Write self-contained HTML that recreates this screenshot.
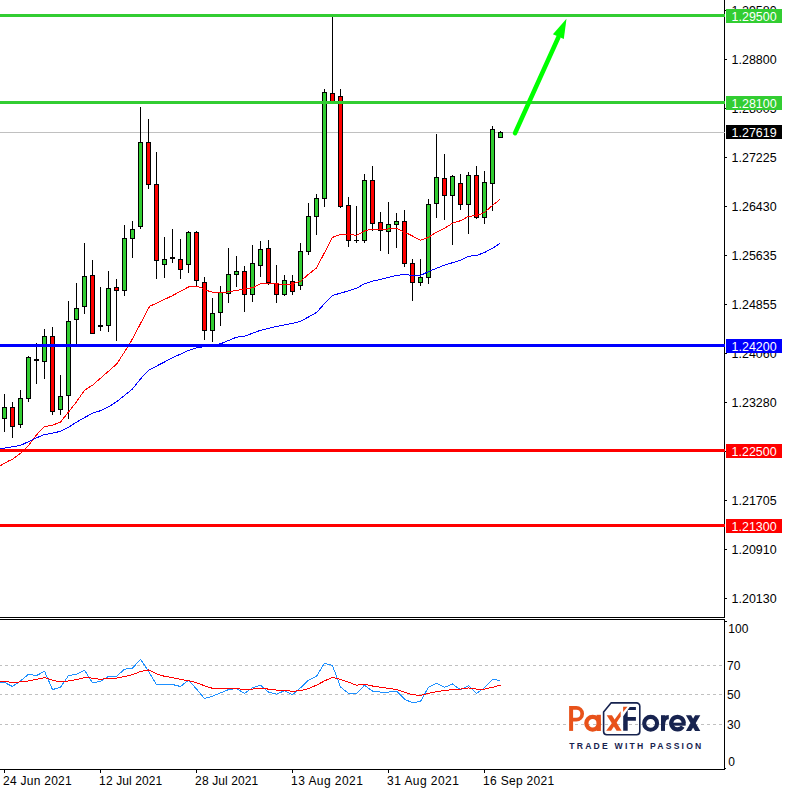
<!DOCTYPE html>
<html><head><meta charset="utf-8"><title>Chart</title><style>html,body{margin:0;padding:0;background:#fff;}body{width:786px;height:788px;overflow:hidden;}svg{display:block}text{font-family:"Liberation Sans",sans-serif;}</style>
</head><body>
<svg width="786" height="788" viewBox="0 0 786 788">
<rect x="0" y="0" width="786" height="788" fill="#ffffff"/>
<g shape-rendering="crispEdges" fill="#000">
<rect x="725" y="10" width="2" height="1"/>
<rect x="725" y="59" width="2" height="1"/>
<rect x="725" y="108" width="2" height="1"/>
<rect x="725" y="157" width="2" height="1"/>
<rect x="725" y="206" width="2" height="1"/>
<rect x="725" y="255" width="2" height="1"/>
<rect x="725" y="304" width="2" height="1"/>
<rect x="725" y="353" width="2" height="1"/>
<rect x="725" y="402" width="2" height="1"/>
<rect x="725" y="451" width="2" height="1"/>
<rect x="725" y="500" width="2" height="1"/>
<rect x="725" y="549" width="2" height="1"/>
<rect x="725" y="598" width="2" height="1"/>
</g>
<g font-size="12" fill="#000">
<text x="731.6" y="15" textLength="45" lengthAdjust="spacingAndGlyphs">1.29580</text>
<text x="731.6" y="64" textLength="45" lengthAdjust="spacingAndGlyphs">1.28800</text>
<text x="731.6" y="113" textLength="45" lengthAdjust="spacingAndGlyphs">1.28005</text>
<text x="731.6" y="162" textLength="45" lengthAdjust="spacingAndGlyphs">1.27225</text>
<text x="731.6" y="211" textLength="45" lengthAdjust="spacingAndGlyphs">1.26430</text>
<text x="731.6" y="260" textLength="45" lengthAdjust="spacingAndGlyphs">1.25635</text>
<text x="731.6" y="309" textLength="45" lengthAdjust="spacingAndGlyphs">1.24855</text>
<text x="731.6" y="358" textLength="45" lengthAdjust="spacingAndGlyphs">1.24060</text>
<text x="731.6" y="407" textLength="45" lengthAdjust="spacingAndGlyphs">1.23280</text>
<text x="731.6" y="456" textLength="45" lengthAdjust="spacingAndGlyphs">1.22485</text>
<text x="731.6" y="505" textLength="45" lengthAdjust="spacingAndGlyphs">1.21705</text>
<text x="731.6" y="554" textLength="45" lengthAdjust="spacingAndGlyphs">1.20910</text>
<text x="731.6" y="603" textLength="45" lengthAdjust="spacingAndGlyphs">1.20130</text>
</g>
<g shape-rendering="crispEdges">
<rect x="0" y="132" width="724" height="1" fill="#C0C0C0"/>
<rect x="4" y="394" width="1" height="38" fill="#000"/>
<rect x="2" y="407" width="5" height="12" fill="#000"/>
<rect x="3" y="408" width="3" height="10" fill="#32CD32"/>
<rect x="12" y="402" width="1" height="36" fill="#000"/>
<rect x="10" y="407" width="5" height="20" fill="#000"/>
<rect x="11" y="408" width="3" height="18" fill="#FF0000"/>
<rect x="20" y="390" width="1" height="38" fill="#000"/>
<rect x="18" y="398" width="5" height="27" fill="#000"/>
<rect x="19" y="399" width="3" height="25" fill="#32CD32"/>
<rect x="28" y="356" width="1" height="46" fill="#000"/>
<rect x="26" y="357" width="5" height="42" fill="#000"/>
<rect x="27" y="358" width="3" height="40" fill="#32CD32"/>
<rect x="36" y="343" width="1" height="41" fill="#000"/>
<rect x="34" y="359" width="5" height="2" fill="#000"/>
<rect x="44" y="329" width="1" height="50" fill="#000"/>
<rect x="42" y="336" width="5" height="26" fill="#000"/>
<rect x="43" y="337" width="3" height="24" fill="#32CD32"/>
<rect x="52" y="327" width="1" height="88" fill="#000"/>
<rect x="50" y="336" width="5" height="76" fill="#000"/>
<rect x="51" y="337" width="3" height="74" fill="#FF0000"/>
<rect x="60" y="375" width="1" height="40" fill="#000"/>
<rect x="58" y="396" width="5" height="14" fill="#000"/>
<rect x="59" y="397" width="3" height="12" fill="#32CD32"/>
<rect x="68" y="301" width="1" height="118" fill="#000"/>
<rect x="66" y="321" width="5" height="75" fill="#000"/>
<rect x="67" y="322" width="3" height="73" fill="#32CD32"/>
<rect x="76" y="283" width="1" height="62" fill="#000"/>
<rect x="74" y="308" width="5" height="12" fill="#000"/>
<rect x="75" y="309" width="3" height="10" fill="#32CD32"/>
<rect x="84" y="243" width="1" height="71" fill="#000"/>
<rect x="82" y="276" width="5" height="31" fill="#000"/>
<rect x="83" y="277" width="3" height="29" fill="#32CD32"/>
<rect x="92" y="260" width="1" height="74" fill="#000"/>
<rect x="90" y="275" width="5" height="59" fill="#000"/>
<rect x="91" y="276" width="3" height="57" fill="#FF0000"/>
<rect x="100" y="287" width="1" height="44" fill="#000"/>
<rect x="98" y="325" width="5" height="2" fill="#000"/>
<rect x="108" y="271" width="1" height="61" fill="#000"/>
<rect x="106" y="288" width="5" height="38" fill="#000"/>
<rect x="107" y="289" width="3" height="36" fill="#32CD32"/>
<rect x="116" y="279" width="1" height="62" fill="#000"/>
<rect x="114" y="287" width="5" height="4" fill="#000"/>
<rect x="115" y="288" width="3" height="2" fill="#FF0000"/>
<rect x="124" y="225" width="1" height="71" fill="#000"/>
<rect x="122" y="238" width="5" height="53" fill="#000"/>
<rect x="123" y="239" width="3" height="51" fill="#32CD32"/>
<rect x="132" y="221" width="1" height="37" fill="#000"/>
<rect x="130" y="229" width="5" height="10" fill="#000"/>
<rect x="131" y="230" width="3" height="8" fill="#32CD32"/>
<rect x="140" y="107" width="1" height="122" fill="#000"/>
<rect x="138" y="142" width="5" height="85" fill="#000"/>
<rect x="139" y="143" width="3" height="83" fill="#32CD32"/>
<rect x="148" y="119" width="1" height="70" fill="#000"/>
<rect x="146" y="142" width="5" height="43" fill="#000"/>
<rect x="147" y="143" width="3" height="41" fill="#FF0000"/>
<rect x="156" y="152" width="1" height="127" fill="#000"/>
<rect x="154" y="184" width="5" height="77" fill="#000"/>
<rect x="155" y="185" width="3" height="75" fill="#FF0000"/>
<rect x="164" y="237" width="1" height="41" fill="#000"/>
<rect x="162" y="259" width="5" height="6" fill="#000"/>
<rect x="163" y="260" width="3" height="4" fill="#32CD32"/>
<rect x="172" y="229" width="1" height="34" fill="#000"/>
<rect x="170" y="257" width="5" height="2" fill="#000"/>
<rect x="180" y="239" width="1" height="40" fill="#000"/>
<rect x="178" y="259" width="5" height="11" fill="#000"/>
<rect x="179" y="260" width="3" height="9" fill="#FF0000"/>
<rect x="188" y="231" width="1" height="42" fill="#000"/>
<rect x="186" y="232" width="5" height="33" fill="#000"/>
<rect x="187" y="233" width="3" height="31" fill="#32CD32"/>
<rect x="196" y="231" width="1" height="55" fill="#000"/>
<rect x="194" y="232" width="5" height="49" fill="#000"/>
<rect x="195" y="233" width="3" height="47" fill="#FF0000"/>
<rect x="204" y="277" width="1" height="63" fill="#000"/>
<rect x="202" y="282" width="5" height="49" fill="#000"/>
<rect x="203" y="283" width="3" height="47" fill="#FF0000"/>
<rect x="212" y="298" width="1" height="44" fill="#000"/>
<rect x="210" y="313" width="5" height="18" fill="#000"/>
<rect x="211" y="314" width="3" height="16" fill="#32CD32"/>
<rect x="220" y="286" width="1" height="40" fill="#000"/>
<rect x="218" y="292" width="5" height="21" fill="#000"/>
<rect x="219" y="293" width="3" height="19" fill="#32CD32"/>
<rect x="228" y="248" width="1" height="55" fill="#000"/>
<rect x="226" y="274" width="5" height="20" fill="#000"/>
<rect x="227" y="275" width="3" height="18" fill="#32CD32"/>
<rect x="236" y="256" width="1" height="31" fill="#000"/>
<rect x="234" y="271" width="5" height="4" fill="#000"/>
<rect x="235" y="272" width="3" height="2" fill="#32CD32"/>
<rect x="244" y="266" width="1" height="46" fill="#000"/>
<rect x="242" y="271" width="5" height="24" fill="#000"/>
<rect x="243" y="272" width="3" height="22" fill="#FF0000"/>
<rect x="252" y="245" width="1" height="57" fill="#000"/>
<rect x="250" y="263" width="5" height="32" fill="#000"/>
<rect x="251" y="264" width="3" height="30" fill="#32CD32"/>
<rect x="260" y="241" width="1" height="36" fill="#000"/>
<rect x="258" y="249" width="5" height="17" fill="#000"/>
<rect x="259" y="250" width="3" height="15" fill="#32CD32"/>
<rect x="268" y="240" width="1" height="45" fill="#000"/>
<rect x="266" y="248" width="5" height="35" fill="#000"/>
<rect x="267" y="249" width="3" height="33" fill="#FF0000"/>
<rect x="276" y="265" width="1" height="38" fill="#000"/>
<rect x="274" y="283" width="5" height="12" fill="#000"/>
<rect x="275" y="284" width="3" height="10" fill="#FF0000"/>
<rect x="284" y="275" width="1" height="21" fill="#000"/>
<rect x="282" y="280" width="5" height="15" fill="#000"/>
<rect x="283" y="281" width="3" height="13" fill="#32CD32"/>
<rect x="292" y="275" width="1" height="20" fill="#000"/>
<rect x="290" y="281" width="5" height="11" fill="#000"/>
<rect x="291" y="282" width="3" height="9" fill="#FF0000"/>
<rect x="300" y="243" width="1" height="47" fill="#000"/>
<rect x="298" y="251" width="5" height="35" fill="#000"/>
<rect x="299" y="252" width="3" height="33" fill="#32CD32"/>
<rect x="308" y="203" width="1" height="52" fill="#000"/>
<rect x="306" y="216" width="5" height="36" fill="#000"/>
<rect x="307" y="217" width="3" height="34" fill="#32CD32"/>
<rect x="316" y="194" width="1" height="41" fill="#000"/>
<rect x="314" y="198" width="5" height="19" fill="#000"/>
<rect x="315" y="199" width="3" height="17" fill="#32CD32"/>
<rect x="324" y="89" width="1" height="118" fill="#000"/>
<rect x="322" y="92" width="5" height="107" fill="#000"/>
<rect x="323" y="93" width="3" height="105" fill="#32CD32"/>
<rect x="332" y="17" width="1" height="85" fill="#000"/>
<rect x="330" y="93" width="5" height="9" fill="#000"/>
<rect x="331" y="94" width="3" height="7" fill="#FF0000"/>
<rect x="340" y="89" width="1" height="119" fill="#000"/>
<rect x="338" y="96" width="5" height="111" fill="#000"/>
<rect x="339" y="97" width="3" height="109" fill="#FF0000"/>
<rect x="348" y="197" width="1" height="50" fill="#000"/>
<rect x="346" y="205" width="5" height="36" fill="#000"/>
<rect x="347" y="206" width="3" height="34" fill="#FF0000"/>
<rect x="356" y="206" width="1" height="37" fill="#000"/>
<rect x="354" y="240" width="5" height="1" fill="#000"/>
<rect x="364" y="174" width="1" height="69" fill="#000"/>
<rect x="362" y="180" width="5" height="61" fill="#000"/>
<rect x="363" y="181" width="3" height="59" fill="#32CD32"/>
<rect x="372" y="166" width="1" height="65" fill="#000"/>
<rect x="370" y="180" width="5" height="44" fill="#000"/>
<rect x="371" y="181" width="3" height="42" fill="#FF0000"/>
<rect x="380" y="212" width="1" height="39" fill="#000"/>
<rect x="378" y="222" width="5" height="9" fill="#000"/>
<rect x="379" y="223" width="3" height="7" fill="#FF0000"/>
<rect x="388" y="202" width="1" height="52" fill="#000"/>
<rect x="386" y="224" width="5" height="8" fill="#000"/>
<rect x="387" y="225" width="3" height="6" fill="#32CD32"/>
<rect x="396" y="213" width="1" height="35" fill="#000"/>
<rect x="394" y="221" width="5" height="4" fill="#000"/>
<rect x="395" y="222" width="3" height="2" fill="#32CD32"/>
<rect x="404" y="210" width="1" height="57" fill="#000"/>
<rect x="402" y="221" width="5" height="43" fill="#000"/>
<rect x="403" y="222" width="3" height="41" fill="#FF0000"/>
<rect x="412" y="259" width="1" height="42" fill="#000"/>
<rect x="410" y="263" width="5" height="20" fill="#000"/>
<rect x="411" y="264" width="3" height="18" fill="#FF0000"/>
<rect x="420" y="259" width="1" height="27" fill="#000"/>
<rect x="418" y="277" width="5" height="6" fill="#000"/>
<rect x="419" y="278" width="3" height="4" fill="#32CD32"/>
<rect x="428" y="199" width="1" height="85" fill="#000"/>
<rect x="426" y="204" width="5" height="74" fill="#000"/>
<rect x="427" y="205" width="3" height="72" fill="#32CD32"/>
<rect x="436" y="134" width="1" height="84" fill="#000"/>
<rect x="434" y="177" width="5" height="27" fill="#000"/>
<rect x="435" y="178" width="3" height="25" fill="#32CD32"/>
<rect x="444" y="154" width="1" height="66" fill="#000"/>
<rect x="442" y="178" width="5" height="18" fill="#000"/>
<rect x="443" y="179" width="3" height="16" fill="#FF0000"/>
<rect x="452" y="175" width="1" height="70" fill="#000"/>
<rect x="450" y="176" width="5" height="20" fill="#000"/>
<rect x="451" y="177" width="3" height="18" fill="#32CD32"/>
<rect x="460" y="174" width="1" height="36" fill="#000"/>
<rect x="458" y="183" width="5" height="22" fill="#000"/>
<rect x="459" y="184" width="3" height="20" fill="#FF0000"/>
<rect x="468" y="172" width="1" height="62" fill="#000"/>
<rect x="466" y="175" width="5" height="30" fill="#000"/>
<rect x="467" y="176" width="3" height="28" fill="#32CD32"/>
<rect x="476" y="166" width="1" height="53" fill="#000"/>
<rect x="474" y="175" width="5" height="43" fill="#000"/>
<rect x="475" y="176" width="3" height="41" fill="#FF0000"/>
<rect x="484" y="171" width="1" height="53" fill="#000"/>
<rect x="482" y="182" width="5" height="36" fill="#000"/>
<rect x="483" y="183" width="3" height="34" fill="#32CD32"/>
<rect x="492" y="126" width="1" height="85" fill="#000"/>
<rect x="490" y="129" width="5" height="55" fill="#000"/>
<rect x="491" y="130" width="3" height="53" fill="#32CD32"/>
<rect x="500" y="131" width="1" height="7" fill="#000"/>
<rect x="498" y="132" width="5" height="6" fill="#000"/>
<rect x="499" y="133" width="3" height="4" fill="#32CD32"/>
</g>
<polyline points="-3.5,467.8 0.5,465.6 8.5,461.0 12.5,459.2 20.5,453.4 28.5,445.6 36.5,434.9 44.5,426.5 52.5,425.2 60.5,422.1 68.5,412.0 76.5,401.8 84.5,390.3 92.5,385.2 100.5,378.2 108.5,371.2 116.5,364.2 124.5,352.0 131.5,340.6 140.5,323.6 148.5,308.4 149.7,306.3 156.5,303.2 164.5,299.4 172.5,295.6 180.5,291.2 188.5,287.0 196.5,286.3 200.5,287.3 204.5,289.5 210.5,291.8 218.5,293.0 226.5,292.1 236.5,290.4 246.5,289.0 254.5,287.0 260.5,283.7 270.5,283.2 284.5,284.5 292.5,284.0 300.5,281.2 308.5,274.3 316.5,268.0 324.5,252.7 332.5,237.4 340.5,234.4 348.5,234.1 356.5,235.4 364.5,231.0 370.5,229.3 380.5,229.8 388.5,229.0 396.5,228.3 404.5,232.1 412.5,236.0 420.5,240.3 428.5,237.2 436.5,232.1 444.5,228.3 452.5,223.2 460.5,220.7 468.5,216.4 476.5,215.6 484.5,212.5 492.5,205.4 500.0,199.4" fill="none" stroke="#FF0000" stroke-width="1" shape-rendering="crispEdges"/>
<polyline points="-3.5,449.4 0.5,448.7 12.5,446.8 20.5,445.4 28.5,441.6 36.5,437.8 44.5,434.5 52.5,433.2 60.5,431.3 68.5,427.4 76.5,422.1 84.5,417.6 92.5,413.2 100.5,410.7 108.5,406.9 116.5,401.8 124.5,395.4 132.5,389.0 140.5,378.9 148.5,370.2 156.5,366.1 164.5,362.0 172.5,357.8 180.5,354.1 188.5,350.5 196.5,347.8 204.5,346.6 220.5,343.8 236.5,337.2 244.5,336.2 260.5,330.3 276.5,326.5 292.5,323.4 300.5,321.4 316.5,312.5 324.5,303.6 332.5,295.4 348.5,290.9 356.5,288.3 364.5,283.7 372.5,281.2 380.5,279.4 388.5,277.5 396.5,275.4 404.5,274.6 412.5,275.4 420.5,275.4 428.5,271.6 436.5,268.3 444.5,265.2 452.5,262.7 460.5,260.1 468.5,256.3 476.5,255.5 484.5,252.5 492.5,248.2 500.0,243.4" fill="none" stroke="#0000FF" stroke-width="1" shape-rendering="crispEdges"/>
<g shape-rendering="crispEdges">
<rect x="724" y="0" width="1" height="618" fill="#000"/>
<rect x="724" y="619" width="1" height="151" fill="#000"/>
<rect x="724" y="132" width="1" height="1" fill="#C0C0C0"/>
<rect x="0" y="14" width="725" height="3" fill="#32CD32"/>
<rect x="0" y="101" width="725" height="3" fill="#32CD32"/>
<rect x="0" y="344" width="725" height="3" fill="#0000FF"/>
<rect x="0" y="449" width="725" height="3" fill="#FF0000"/>
<rect x="0" y="524" width="725" height="3" fill="#FF0000"/>
<rect x="0" y="617" width="725" height="1" fill="#000"/>
<rect x="0" y="619" width="725" height="1" fill="#000"/>
<rect x="0" y="769" width="725" height="1" fill="#000"/>
<rect x="726" y="9" width="56" height="14" fill="#32CD32"/>
<rect x="726" y="96" width="56" height="14" fill="#32CD32"/>
<rect x="726" y="339" width="56" height="14" fill="#0000FF"/>
<rect x="726" y="444" width="56" height="14" fill="#FF0000"/>
<rect x="726" y="519" width="56" height="14" fill="#FF0000"/>
<rect x="726" y="125" width="56" height="14" fill="#000"/>
</g>
<g font-size="12" fill="#fff">
<text x="731.6" y="21" textLength="45" lengthAdjust="spacingAndGlyphs">1.29500</text>
<text x="731.6" y="108" textLength="45" lengthAdjust="spacingAndGlyphs">1.28100</text>
<text x="731.6" y="351" textLength="45" lengthAdjust="spacingAndGlyphs">1.24200</text>
<text x="731.6" y="456" textLength="45" lengthAdjust="spacingAndGlyphs">1.22500</text>
<text x="731.6" y="531" textLength="45" lengthAdjust="spacingAndGlyphs">1.21300</text>
<text x="731.6" y="137" textLength="45" lengthAdjust="spacingAndGlyphs">1.27619</text>
</g>
<line x1="515" y1="133.2" x2="558.4" y2="37.2" stroke="#00FF00" stroke-width="4.5" stroke-linecap="round"/>
<polygon points="566.5,18.8 552.9,34.2 563.8,39.0" fill="#00FF00"/>
<g stroke="#C0C0C0" stroke-width="1" stroke-dasharray="3,3" shape-rendering="crispEdges">
<line x1="-1" y1="665.5" x2="722" y2="665.5"/>
<line x1="-1" y1="694.5" x2="722" y2="694.5"/>
<line x1="-1" y1="724.5" x2="722" y2="724.5"/>
</g>
<polyline points="-4,682.4 4.5,682.4 12.5,686.5 20.5,680.9 28.5,674.3 36.5,675.6 44.5,671.2 52.5,689.6 60.5,687.3 68.5,675.6 76.5,674.3 84.5,670.2 92.5,682.7 100.5,681.4 108.5,676.3 116.5,676.3 124.5,669.2 132.5,668.2 140.5,659.3 148.5,671.2 156.5,684.5 164.5,684.5 172.5,684.5 180.5,686.5 188.5,680.2 196.5,689.0 204.5,698.5 212.5,696.2 220.5,692.9 228.5,689.6 236.5,688.5 244.5,693.4 252.5,687.8 260.5,685.2 268.5,692.1 276.5,694.1 284.5,690.8 292.5,694.7 300.5,687.8 308.5,680.2 316.5,676.3 324.5,663.1 332.5,665.6 340.5,687.0 348.5,693.4 356.5,693.4 364.5,685.2 372.5,691.1 380.5,692.1 388.5,692.1 396.5,691.1 404.5,699.2 412.5,702.8 420.5,701.3 428.5,687.3 436.5,683.2 444.5,687.3 452.5,684.0 460.5,689.8 468.5,685.8 476.5,693.4 484.5,687.8 492.5,679.6 500.5,680.4" fill="none" stroke="#1E90FF" stroke-width="1" shape-rendering="crispEdges"/>
<polyline points="-4,681.5 4.5,681.5 12.5,682.4 20.5,681.9 28.5,680.9 36.5,679.4 44.5,677.6 52.5,680.2 60.5,681.9 68.5,680.9 76.5,679.6 84.5,677.6 92.5,678.1 100.5,679.4 108.5,678.1 116.5,678.2 124.5,676.6 132.5,674.5 140.5,671.6 148.5,670.0 156.5,673.8 164.5,676.3 172.5,677.6 180.5,679.4 188.5,680.7 196.5,682.7 204.5,685.8 212.5,688.3 220.5,688.5 228.5,688.5 236.5,688.5 244.5,689.6 252.5,689.1 260.5,688.3 268.5,689.1 276.5,690.1 284.5,690.3 292.5,691.3 300.5,690.6 308.5,688.5 316.5,685.2 324.5,680.9 332.5,677.4 340.5,679.4 348.5,682.2 356.5,685.2 364.5,684.2 372.5,686.0 380.5,687.3 388.5,688.3 396.5,689.6 404.5,692.1 412.5,694.7 420.5,695.4 428.5,693.4 436.5,691.6 444.5,690.6 452.5,689.6 460.5,689.1 468.5,688.0 476.5,689.1 484.5,689.1 492.5,687.3 500.5,685.2" fill="none" stroke="#FF0000" stroke-width="1" shape-rendering="crispEdges"/>
<g shape-rendering="crispEdges" fill="#000">
<rect x="725" y="621" width="2" height="1"/>
<rect x="725" y="768" width="1" height="1"/>
<rect x="4" y="770" width="1" height="3"/>
<rect x="100" y="770" width="1" height="3"/>
<rect x="196" y="770" width="1" height="3"/>
<rect x="292" y="770" width="1" height="3"/>
<rect x="388" y="770" width="1" height="3"/>
<rect x="484" y="770" width="1" height="3"/>
</g>
<g font-size="12" fill="#000">
<text x="728.3" y="633" letter-spacing="0.1">100</text>
<text x="727" y="670" letter-spacing="0.1">70</text>
<text x="727" y="699" letter-spacing="0.1">50</text>
<text x="727" y="729" letter-spacing="0.1">30</text>
<text x="728.2" y="766" letter-spacing="0.1">0</text>
<text x="3.1" y="785" textLength="68.6" lengthAdjust="spacing">24 Jun 2021</text>
<text x="99.1" y="785" textLength="63.2" lengthAdjust="spacing">12 Jul 2021</text>
<text x="195.1" y="785" textLength="63.2" lengthAdjust="spacing">28 Jul 2021</text>
<text x="291.1" y="785" textLength="71.8" lengthAdjust="spacing">13 Aug 2021</text>
<text x="387.1" y="785" textLength="71.8" lengthAdjust="spacing">31 Aug 2021</text>
<text x="483.1" y="785" textLength="71.0" lengthAdjust="spacing">16 Sep 2021</text>
</g>
<g id="logo" fill="none" stroke-linejoin="miter">
<path d="M571.1 730.9 V706" stroke="#E8521A" stroke-width="4.0"/>
<path d="M571.1 707.85 H576.3 A5.9 5.9 0 0 1 576.3 719.65 H571.1" stroke="#E8521A" stroke-width="3.7"/>
<circle cx="592.65" cy="723.25" r="6.3" stroke="#E8521A" stroke-width="4.3"/>
<path d="M598.75 714.8 V731" stroke="#E8521A" stroke-width="4.3"/>
<path d="M611 702.9 H636.4 A3.4 3.4 0 0 1 639.8 706.3 V731.55 A3.2 3.2 0 0 1 636.6 734.75 H606.8 A3.2 3.2 0 0 1 603.6 731.55 V712 Z" stroke="#17234F" stroke-width="1.6" stroke-linejoin="round"/>
<polygon points="606.7,715.2 612,715.2 621.6,730.8 616.6,730.8" fill="#E8521A"/>
<polygon points="606.2,730.8 611.1,730.8 620.7,716.4 620.7,711.2" fill="#E8521A"/>
<polygon points="623.1,706.7 627.5,706.7 623.1,711.9" fill="#E8521A"/>
<polygon points="623.2,730.8 623.2,716.2 629.7,706.9 635.9,706.9 635.9,709.9 627.7,709.9 627.7,717.1 635.9,717.1 635.9,720.7 627.7,720.7 627.7,730.8" fill="#17234F"/>
<circle cx="650.65" cy="723.35" r="6.45" stroke="#17234F" stroke-width="4.1"/>
<path d="M663 730.9 V715.2" stroke="#17234F" stroke-width="4.0"/>
<path d="M663.1 724.5 C663.1 719.6 665 717.2 668.8 717.2" stroke="#17234F" stroke-width="4.2"/>
<path d="M683.75 723.15 A6.25 6.25 0 1 0 682.74 726.55" stroke="#17234F" stroke-width="4.2"/>
<path d="M671.8 724.2 H685.6" stroke="#17234F" stroke-width="3"/>
<polygon points="685.9,715.2 691.1,715.2 700.3,731.1 695.1,731.1" fill="#17234F"/>
<polygon points="695.1,715.2 700.3,715.2 691.1,731.1 685.9,731.1" fill="#17234F"/>
</g>
<text x="569.3" y="748.9" font-size="8.6" font-weight="bold" fill="#17234F" textLength="132" lengthAdjust="spacing">TRADE WITH PASSION</text>
</svg>
</body></html>
